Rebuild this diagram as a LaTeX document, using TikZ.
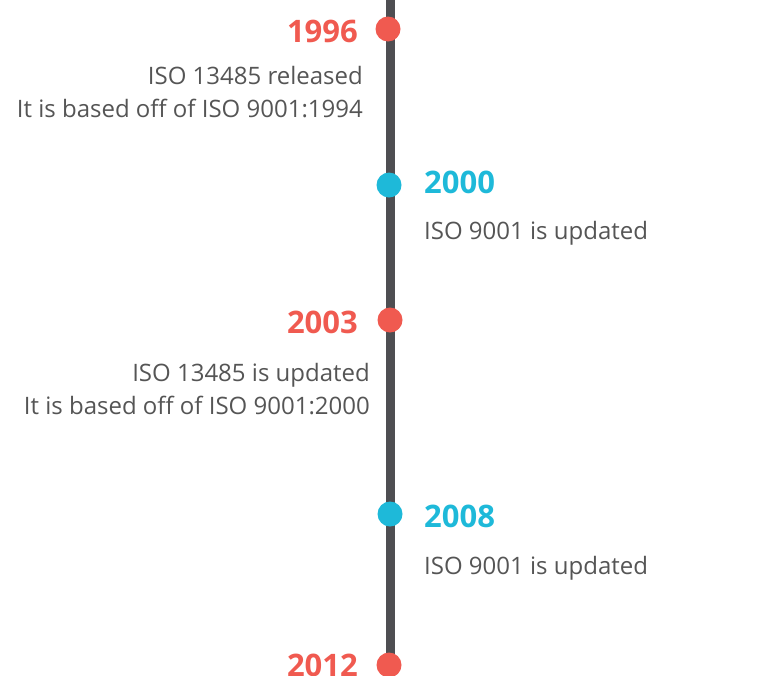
\documentclass[tikz,border=0pt]{standalone}
\usepackage{fontspec}
\setmainfont{Open Sans}
\definecolor{tlred}{HTML}{F05A50}
\definecolor{tlblue}{HTML}{1EB9D9}
\definecolor{tlline}{HTML}{4E4E52}
\definecolor{tltext}{HTML}{555555}
\begin{document}
\begin{tikzpicture}[x=1pt,y=-1pt,
  dotred/.style={circle,fill=tlred,inner sep=0pt,minimum size=25pt},
  dotblue/.style={circle,fill=tlblue,inner sep=0pt,minimum size=25pt},
  yearred/.style={font=\fontsize{31}{38}\selectfont\bfseries,text=tlred,inner sep=0pt},
  yearblue/.style={font=\fontsize{31}{38}\selectfont\bfseries,text=tlblue,inner sep=0pt},
  desc/.style={font=\fontsize{24}{33}\selectfont,text=tltext,inner sep=0pt}]
\useasboundingbox (0,0) rectangle (783,675);
\coordinate (top) at (390.5,0);
\coordinate (bot) at (390.5,675);
\draw[tlline,line width=9pt] (top) -- (bot);
\node[dotred] (d1996) at (388,29) {};
\node[dotblue] (d2000) at (389,185) {};
\node[dotred] (d2003) at (390,320) {};
\node[dotblue] (d2008) at (390,514) {};
\node[dotred] (d2012) at (389,665) {};
\node[yearred,anchor=base east] (y1996) at (358,42) {1996};
\node[yearblue,anchor=base west] (y2000) at (424,193) {2000};
\node[yearred,anchor=base east] (y2003) at (358,333) {2003};
\node[yearblue,anchor=base west] (y2008) at (424,527) {2008};
\node[yearred,anchor=base east] (y2012) at (358,676) {2012};
\node[desc,anchor=base east] (t1996a) at (363,84) {ISO 13485 released};
\node[desc,anchor=base east] (t1996b) at (363,117) {It is based off of ISO 9001:1994};
\node[desc,anchor=base west] (t2000) at (424,239) {ISO 9001 is updated};
\node[desc,anchor=base east] (t2003a) at (370,381) {ISO 13485 is updated};
\node[desc,anchor=base east] (t2003b) at (370,414) {It is based off of ISO 9001:2000};
\node[desc,anchor=base west] (t2008) at (424,574) {ISO 9001 is updated};
\end{tikzpicture}
\end{document}
